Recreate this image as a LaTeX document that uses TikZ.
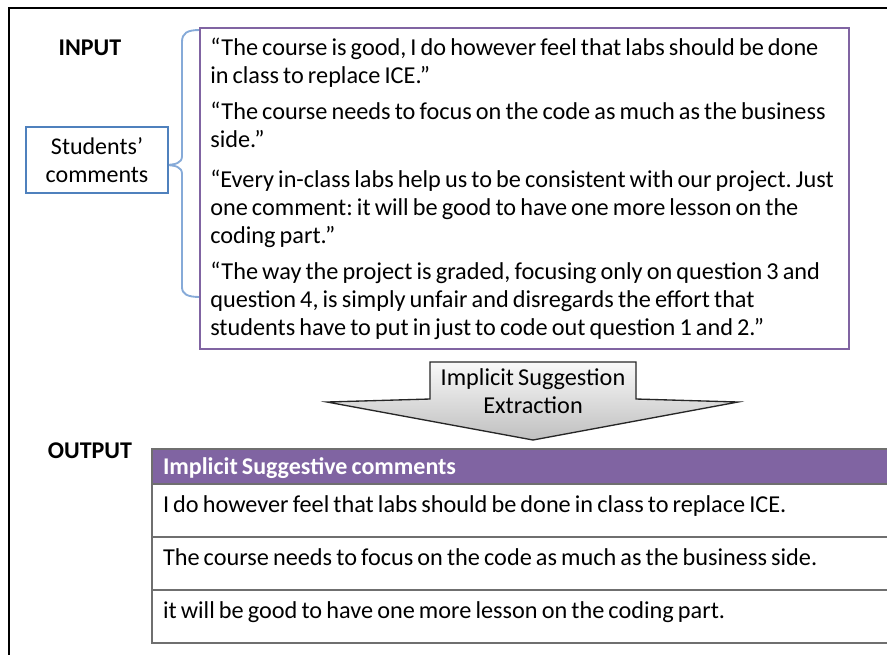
\documentclass[tikz,border=0pt]{standalone}
\usepackage{fontspec}
\setmainfont{Carlito}[WordSpace=0.75]
\usetikzlibrary{fit}
\frenchspacing

\definecolor{boxpurple}{HTML}{8064A2}
\definecolor{boxblue}{HTML}{4F81BD}
\definecolor{braceblue}{HTML}{86AAD8}
\definecolor{rulegray}{HTML}{6F6F6F}

\def\px{0.75pt}

\tikzset{
   heading/.style={font=\bfseries\fontsize{18}{21}\selectfont},
   quote/.style={font=\fontsize{18.2}{21}\selectfont, align=left, inner sep=0pt, anchor=base west},
   studbox/.style={draw=boxblue, line width=1.6pt, align=center,
      font=\fontsize{18}{21.5}\selectfont,
      minimum width=142*\px, minimum height=66*\px},
   brace/.style={draw=braceblue, line width=1.4pt},
   hdrcell/.style={fill=boxpurple, draw=rulegray, line width=1.2pt, text=white,
      font=\bfseries\fontsize{18}{21}\selectfont, anchor=north west, outer sep=0pt,
      text width=716*\px, align=flush left, inner xsep=11*\px, inner ysep=0pt,
      text height=25*\px, text depth=10*\px},
   rowcell/.style={draw=rulegray, line width=1.2pt,
      font=\fontsize{18.2}{21}\selectfont, anchor=north west, outer sep=0pt,
      text width=716*\px, align=flush left, inner xsep=11*\px, inner ysep=0pt,
      text height=28*\px, text depth=25*\px}
}

\begin{document}
\begin{tikzpicture}[x=\px, y=-\px]

      \useasboundingbox (0,0) rectangle (887,654);
      \clip (0,0) rectangle (887,654);

      % frame round the figure
      \draw [line width=2pt] (9,670) -- (9,8) -- (900,8);

      \node [heading] (input) at (90,48) {INPUT};
      \node [heading] (output) at (90,451) {OUTPUT};

      % the brace from the label to the comments
      \coordinate (bracetop) at (200,30);
      \coordinate (bracebot) at (200,297);
      \coordinate (tip) at (163,165);

      \draw [brace] (bracetop) .. controls (187,30) and (182,33) .. (182,42)
         -- (182,156) .. controls (182,163) and (176,165) .. (tip)
         .. controls (176,165) and (182,167) .. (182,174)
         -- (182,287) .. controls (182,294) and (187,297) .. (bracebot);

      \node [studbox, fill=white] (students) at (97,160) {Students’\\comments};

      \node [fit={(200,28) (849,349)}, inner sep=0pt, draw=boxpurple, line width=2pt] (commentbox) {};

      % base anchor sits on the last line
      \node [quote] (c1) at (210,83) {“The course is good, I do however feel that labs should be done\\in class to replace ICE.”};
      \node [quote] (c2) at (210,147) {“The course needs to focus on the code as much as the business\\side.”};
      \node [quote] (c3) at (210,243) {“Every in-class labs help us to be consistent with our project. Just\\one comment: it will be good to have one more lesson on the\\coding part.”};
      \node [quote] (c4) at (210,335) {“The way the project is graded, focusing only on question 3 and\\question 4, is simply unfair and disregards the effort that\\students have to put in just to code out question 1 and 2.”};

      % extraction step
      \draw [draw=black!85, line width=1pt, top color=gray!5, bottom color=gray!50]
         (430,362) -- (636,362) -- (636,399) -- (738,402) -- (533,440)
         -- (327,402) -- (430,399) -- cycle;

      \node [quote, anchor=center, align=center] (extract) at (533,391) {Implicit Suggestion\\Extraction};

      % result table
      \node [hdrcell] (hdr) at (152,449) {Implicit Suggestive comments};
      \node [rowcell] (row1) at (hdr.south west) {I do however feel that labs should be done in class to replace ICE.};
      \node [rowcell] (row2) at (row1.south west) {The course needs to focus on the code as much as the business side.};
      \node [rowcell] (row3) at (row2.south west) {it will be good to have one more lesson on the coding part.};

   \end{tikzpicture}
\end{document}
